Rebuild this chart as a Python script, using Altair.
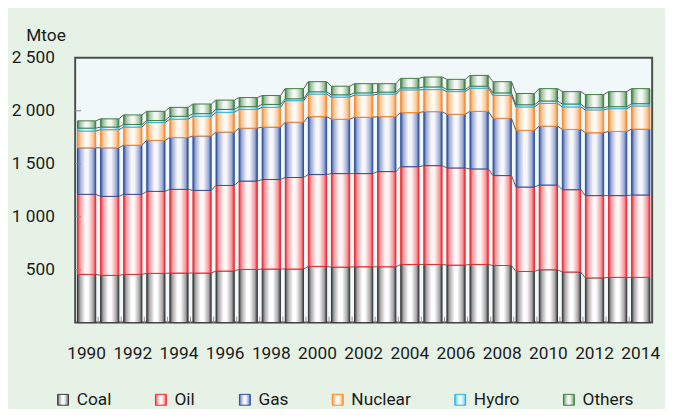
import altair as alt
import pandas as pd

years = list(range(1990, 2015))
series_names = ["Coal", "Oil", "Gas", "Nuclear", "Hydro", "Others"]

coal = [455, 446, 455, 465, 468, 468, 487, 502, 506, 506, 530, 524, 527,
        527, 549, 549, 543, 549, 539, 483, 499, 478, 422, 427, 427]
oil = [756, 746, 756, 774, 790, 780, 808, 834, 845, 864, 868, 883, 880,
       899, 923, 933, 917, 902, 849, 797, 800, 777, 777, 772, 778]
gas = [439, 458, 464, 482, 489, 514, 504, 500, 495, 522, 547, 513, 532,
       519, 511, 510, 507, 544, 541, 535, 556, 569, 594, 606, 622]
nuclear = [158, 171, 171, 168, 173, 186, 186, 177, 186, 203, 212, 209, 209,
           212, 214, 208, 214, 218, 215, 221, 214, 212, 215, 215, 218]
hydro = [28, 25, 25, 19, 28, 25, 28, 26, 28, 18, 22, 22, 21,
         19, 19, 25, 19, 19, 25, 21, 23, 28, 21, 19, 22]
others = [69, 78, 90, 87, 84, 91, 88, 86, 84, 96, 96, 81, 87,
          80, 90, 94, 97, 102, 106, 106, 117, 117, 124, 142, 142]

y_tick_values = [0, 500, 1000, 1500, 2000, 2500]
x_label_years = years[::2]

edge_colors = ["#3a3a3a", "#ec2830", "#2e4e9e", "#f5882a", "#2ab4e4", "#3e7d40"]
center_colors = ["#ffffff", "#fff6f6", "#f6f6fc", "#fff9f2", "#eefafe", "#f4f8f4"]

FONT = "Roboto"
TEXT = "#1a1a1a"
FS = 17.5

rows = []
for i, (name, vals) in enumerate(zip(series_names, [coal, oil, gas, nuclear, hydro, others])):
    for yr, v in zip(years, vals):
        rows.append({"year": yr, "series": name, "order": i, "value": v})
df = pd.DataFrame(rows)


def mix(c1, c2, t):
    a = [int(c1[k:k + 2], 16) for k in (1, 3, 5)]
    b = [int(c2[k:k + 2], 16) for k in (1, 3, 5)]
    return "#" + "".join(f"{round(x + (y - x) * t):02x}" for x, y in zip(a, b))


def gradient(edge, center):
    mid = mix(edge, center, 0.55)
    stops = [(0, edge), (0.14, mid), (0.42, center), (0.58, center), (0.86, mid), (1, edge)]
    s = ",".join("{offset:%s,color:'%s'}" % (o, c) for o, c in stops)
    return alt.ExprRef(expr="{gradient:'linear',x1:0,y1:0,x2:1,y2:0,stops:[%s]}" % s)


fill_range = [gradient(e, c) for e, c in zip(edge_colors, center_colors)]

legend = alt.Legend(
    title=None, orient="none", direction="horizontal", columns=6,
    legendX=-21, legendY=337, columnPadding=41, labelOffset=5,
    symbolType="square", symbolSize=121, symbolStrokeWidth=1,
    labelFont=FONT, labelFontSize=FS, labelColor=TEXT, padding=0,
)

x_scale = alt.Scale(paddingInner=0.21, paddingOuter=0.1)
y_scale = alt.Scale(domain=[0, 2500], nice=False)

x_axis = alt.Axis(values=x_label_years, labelAngle=0, ticks=False, tickSize=0,
                  domain=False, labelPadding=22, labelFont=FONT, labelFontSize=FS,
                  labelColor=TEXT, labelOverlap=False, title=None)
y_axis = alt.Axis(values=y_tick_values, grid=False, ticks=False, tickSize=0,
                  domain=False, labelPadding=21, labelFont=FONT, labelFontSize=FS,
                  labelColor=TEXT, labelFlush=False,
                  labelExpr="datum.value == 0 ? '' : replace(format(datum.value, ','), ',', ' ')",
                  title="Mtoe", titleAngle=0, titleAlign="right", titleX=-10, titleY=-18,
                  titleBaseline="alphabetic", titleFont=FONT, titleFontSize=FS,
                  titleFontWeight="normal", titleColor=TEXT)

bars = alt.Chart(df).mark_bar(strokeWidth=1).encode(
    x=alt.X("year:O", scale=x_scale, axis=x_axis, title=None),
    y=alt.Y("value:Q", stack="zero", scale=y_scale, axis=y_axis, title="Mtoe"),
    fill=alt.Fill("series:N", scale=alt.Scale(domain=series_names, range=fill_range), legend=legend),
    stroke=alt.Stroke("series:N", scale=alt.Scale(domain=series_names, range=edge_colors), legend=legend),
    order=alt.Order("order:Q", sort="ascending"),
)

series_lines = alt.Chart(df).transform_stack(
    stack="value", groupby=["year"], as_=["v0", "v1"],
    sort=[alt.SortField("order", order="ascending")],
).transform_window(
    next_year="lead(year)", next_v1="lead(v1)", groupby=["series"],
    sort=[alt.SortField("year", order="ascending")],
).transform_filter(
    "datum.next_year != null"
).mark_rule(color="#5a5a5a", strokeWidth=1, xOffset=9.4, x2Offset=-9.4).encode(
    x=alt.X("year:O", axis=x_axis, title=None),
    x2="next_year:O",
    y=alt.Y("v1:Q", axis=y_axis, title="Mtoe"),
    y2="next_v1:Q",
)

y_ticks = alt.Chart(pd.DataFrame({"t": y_tick_values[1:-1]})).mark_rule(
    color="#8a8a8a", strokeWidth=1
).encode(
    y=alt.Y("t:Q", axis=y_axis, title="Mtoe"),
    x=alt.value(0),
    x2=alt.value(6),
)

x_ticks = alt.Chart(pd.DataFrame({"year": years[1:]})).mark_rule(
    color="#9a9a9a", strokeWidth=1, xOffset=-11.68
).encode(
    x=alt.X("year:O", axis=x_axis, title=None),
    y=alt.value(268),
    y2=alt.value(262),
)

chart = alt.layer(bars, series_lines, y_ticks, x_ticks).properties(
    width=584, height=268,
    autosize=alt.AutoSizeParams(type="none"),
    padding={"left": 68, "top": 48, "right": 13, "bottom": 85},
    background="#e6f2e6",
).configure_view(
    fill="#f0f8fa", stroke="#4d4d4d", strokeWidth=2,
)

chart.save("out.html", embed_options={"renderer": "svg", "actions": False})
